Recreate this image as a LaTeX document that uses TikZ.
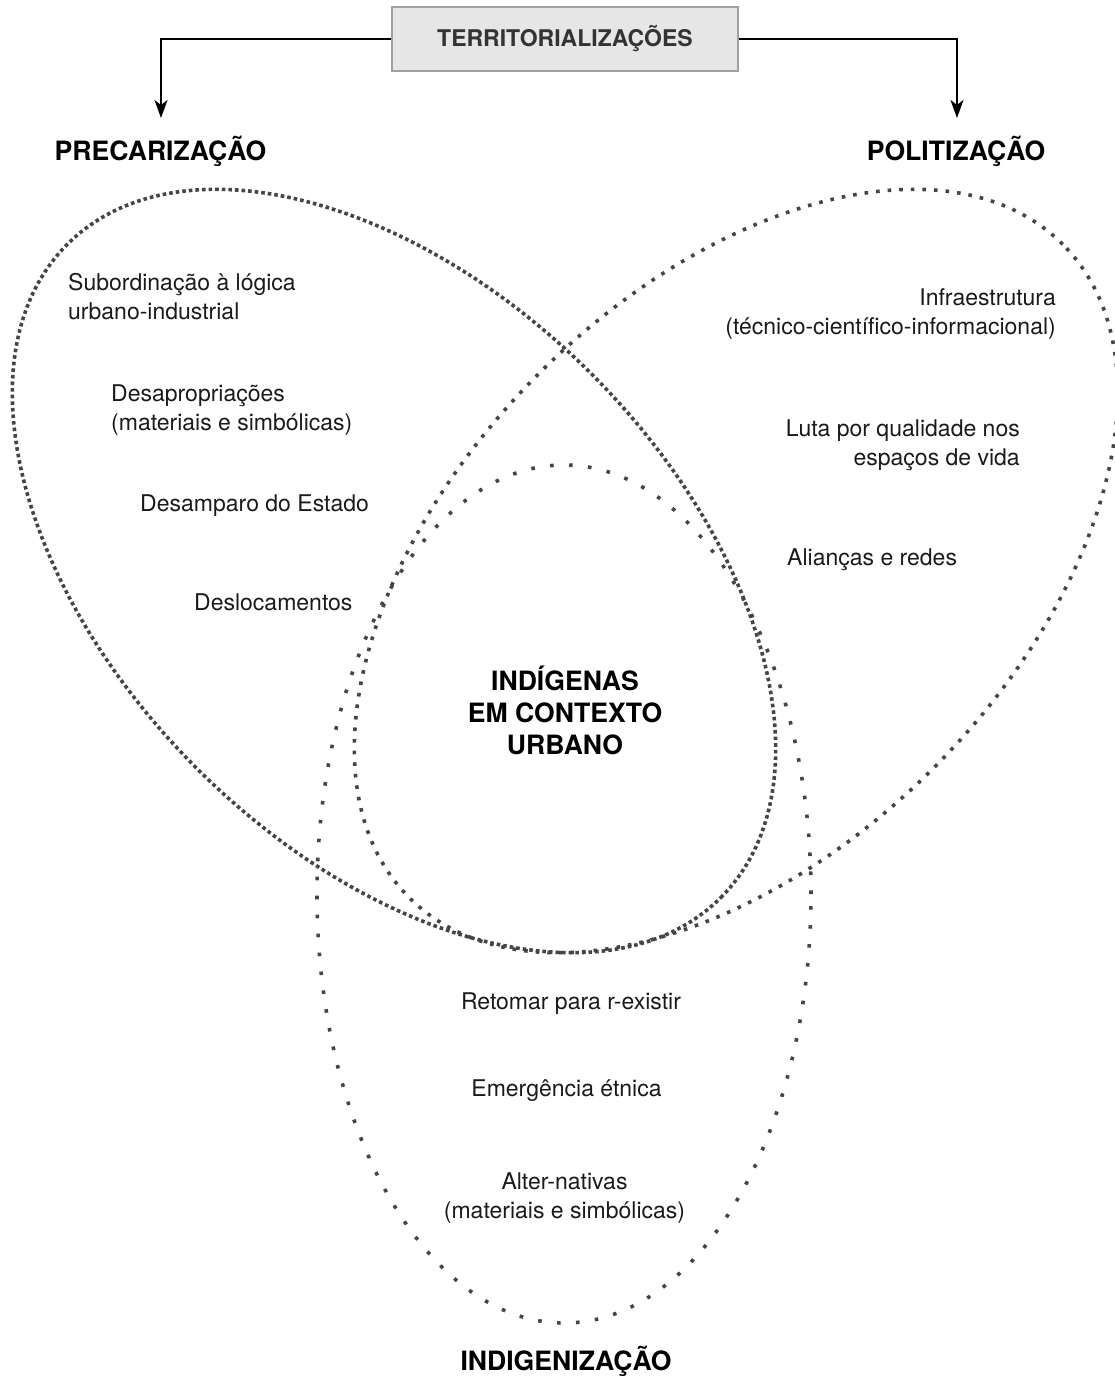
\documentclass[tikz,border=0pt]{standalone}
\usepackage{fontspec}
\setmainfont{TeX Gyre Heros}
\usetikzlibrary{arrows.meta}
\definecolor{dotgray}{HTML}{454545}
\definecolor{txt}{HTML}{1A1A1A}
\definecolor{boxfill}{HTML}{E6E6E6}
\definecolor{boxborder}{HTML}{A0A0A0}
\definecolor{boxtext}{HTML}{333333}
\begin{document}
\begin{tikzpicture}[x=1pt,y=-1pt,
  body/.style={font=\fontsize{23}{29}\selectfont, text=txt, inner sep=0pt},
  title/.style={font=\fontsize{26.6}{32}\selectfont\bfseries, text=black, inner sep=0pt},
  leafdense/.style={draw=dotgray, line width=3.6pt, dash pattern=on 3.6pt off 3pt},
  leafsparse/.style={draw=dotgray, line width=3.6pt, dash pattern=on 3.6pt off 8pt},
  ovalsparse/.style={draw=dotgray, line width=3.6pt, dash pattern=on 3.6pt off 15.4pt},
  conn/.style={line width=2pt, draw=black, -{Stealth[length=18pt,width=13pt,inset=5pt]}},
  topbox/.style={draw=boxborder, fill=boxfill, line width=1.8pt, minimum width=346pt,
    minimum height=64pt, font=\fontsize{23}{27}\selectfont\bfseries, text=boxtext}
]
\useasboundingbox (0,0) rectangle (1115,1376);

% three overlapping shapes
\draw[leafdense, rotate around={-45:(394,571)}] (394,571) ellipse [x radius=462pt, y radius=279pt];
\draw[leafsparse, rotate around={45:(736,571)}] (736,571) ellipse [x radius=462pt, y radius=279pt];
\draw[ovalsparse] (564,894) ellipse [x radius=247pt, y radius=429pt];

% top box and connectors
\node[topbox] (terr) at (565,39) {TERRITORIALIZAÇÕES};
\coordinate (ptip) at (161,118);
\coordinate (qtip) at (957,118);
\draw[conn] (terr.west) -| (ptip);
\draw[conn] (terr.east) -| (qtip);

% titles
\node[title] (prec) at (160.5,151) {PRECARIZAÇÃO};
\node[title] (poli) at (956,151) {POLITIZAÇÃO};
\node[title] (indig) at (566,1361) {INDIGENIZAÇÃO};
\node[title, align=center] (centre) at (565,710) {INDÍGENAS\\EM CONTEXTO\\URBANO};

% left texts
\node[body, anchor=west, align=left] (t1) at (68,297) {Subordinação à lógica\\urbano-industrial};
\node[body, anchor=west, align=left] (t2) at (111,410) {Desapropriações\\(materiais e simbólicas)};
\node[body, anchor=west] (t3) at (140,506) {Desamparo do Estado};
\node[body, anchor=west] (t4) at (194,602) {Deslocamentos};

% right texts
\node[body, anchor=east, align=right] (t5) at (1056,314.5) {Infraestrutura\\(técnico-científico-informacional)};
\node[body, anchor=east, align=right] (t6) at (1020,445.5) {Luta por qualidade nos\\espaços de vida};
\node[body, anchor=west] (t7) at (787,560) {Alianças e redes};

% bottom texts
\node[body] (t8) at (571,1004) {Retomar para r-existir};
\node[body] (t9) at (566.5,1091) {Emergência étnica};
\node[body, align=center] (t10) at (564.5,1198.5) {Alter-nativas\\(materiais e simbólicas)};
\end{tikzpicture}
\end{document}
